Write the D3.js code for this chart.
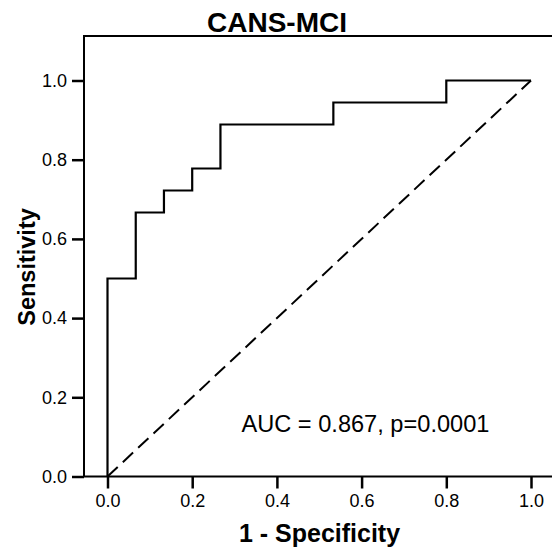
<!DOCTYPE html>
<html>
<head>
<meta charset="utf-8">
<script src="https://cdn.jsdelivr.net/npm/d3@7"></script>
<style>
  html, body { margin: 0; padding: 0; background: #fff; }
  svg { display: block; font-family: "Liberation Sans", Arial, sans-serif; }
</style>
</head>
<body>
<svg id="chart" width="552" height="550"></svg>
<script>
// ROC curve points (1 - specificity, sensitivity)
const fpr = [0, 0, 0.0667, 0.0667, 0.1333, 0.1333, 0.2, 0.2, 0.2667, 0.2667, 0.5333, 0.5333, 0.8, 0.8, 1.0];
const tpr = [0, 0.5, 0.5, 0.6667, 0.6667, 0.7222, 0.7222, 0.7778, 0.7778, 0.8889, 0.8889, 0.9444, 0.9444, 1.0, 1.0];
const refLine = [[0, 0], [1, 1]];
const xTicks = [0, 0.2, 0.4, 0.6, 0.8, 1.0];
const yTicks = [0, 0.2, 0.4, 0.6, 0.8, 1.0];
const title = "CANS-MCI";
const xLabel = "1 - Specificity";
const yLabel = "Sensitivity";
const annotation = "AUC = 0.867, p=0.0001";

const svg = d3.select("#chart");
const x = d3.scaleLinear().domain([0, 1]).range([107.5, 531]);
const y = d3.scaleLinear().domain([0, 1]).range([476.5, 80.5]);
const xMin = x.invert(84), xMax = x.invert(560);
const yTop = y.invert(36);

// frame: top line, left axis, bottom axis
svg.append("path")
  .attr("d", `M${x(xMax)},${y(yTop)} L${x(xMin)},${y(yTop)} L${x(xMin)},${y(0)} L${x(xMax)},${y(0)}`)
  .attr("fill", "none").attr("stroke", "#000").attr("stroke-width", 2);

// x axis
const xAxis = d3.axisBottom(x).tickValues(xTicks).tickFormat(d3.format(".1f")).tickSize(12).tickPadding(6);
const gx = svg.append("g").attr("transform", `translate(0,${y(0)})`).call(xAxis);
gx.select(".domain").remove();
gx.selectAll(".tick line").attr("stroke", "#000").attr("stroke-width", 2.5);
gx.selectAll(".tick text").attr("font-size", 18).attr("fill", "#000")
  .attr("font-family", "Liberation Sans, Arial, sans-serif");

// y axis
const yAxis = d3.axisLeft(y).tickValues(yTicks).tickFormat(d3.format(".1f")).tickSize(12).tickPadding(5);
const gy = svg.append("g").attr("transform", `translate(${x(xMin)},0)`).call(yAxis);
gy.select(".domain").remove();
gy.selectAll(".tick line").attr("stroke", "#000").attr("stroke-width", 2.5);
gy.selectAll(".tick text").attr("font-size", 18).attr("fill", "#000")
  .attr("font-family", "Liberation Sans, Arial, sans-serif");

// reference diagonal
svg.append("path")
  .attr("d", d3.line().x(d => x(d[0])).y(d => y(d[1]))(refLine))
  .attr("fill", "none").attr("stroke", "#000").attr("stroke-width", 2)
  .attr("stroke-dasharray", "14,7");

// ROC curve
const pts = fpr.map((f, i) => [f, tpr[i]]);
svg.append("path")
  .attr("d", d3.line().x(d => x(d[0])).y(d => y(d[1]))(pts))
  .attr("fill", "none").attr("stroke", "#000").attr("stroke-width", 2.2)
  .attr("stroke-linejoin", "miter");

// title
svg.append("text").attr("x", 277).attr("y", 31.5).attr("text-anchor", "middle")
  .attr("font-size", 28).attr("font-weight", "bold").text(title);

// x label
svg.append("text").attr("x", 319.5).attr("y", 541.5).attr("text-anchor", "middle")
  .attr("font-size", 25).attr("font-weight", "bold").text(xLabel);

// y label
svg.append("text").attr("transform", "translate(35,267) rotate(-90)").attr("text-anchor", "middle")
  .attr("font-size", 23.5).attr("font-weight", "bold").text(yLabel);

// annotation
svg.append("text").attr("x", 241.5).attr("y", 431.5)
  .attr("font-size", 23.6).text(annotation);
</script>
</body>
</html>
